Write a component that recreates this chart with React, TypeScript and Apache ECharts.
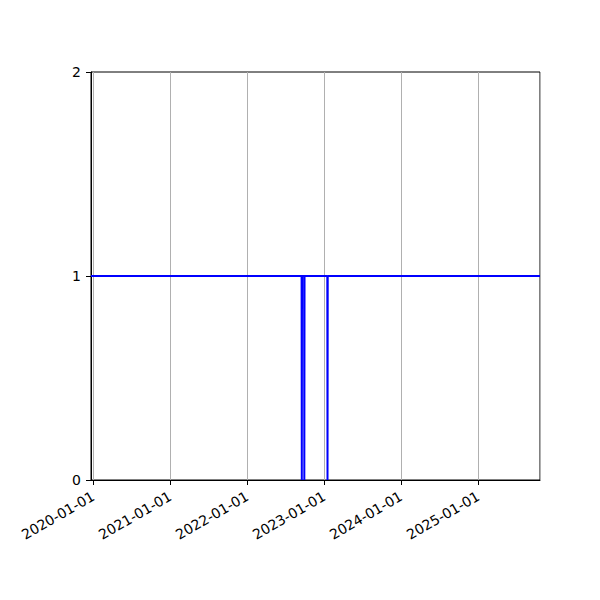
import { useEffect, useRef } from "react";
import * as echarts from "echarts";

// change points of the series (date, value): three one-day drops to 0
const dates = [
  "2019-12-22",
  "2022-09-16",
  "2022-09-17",
  "2022-09-18",
  "2022-09-28",
  "2022-09-29",
  "2022-09-30",
  "2023-01-16",
  "2023-01-17",
  "2023-01-18",
  "2025-10-21",
];
const values = [1, 1, 0, 1, 1, 0, 1, 1, 0, 1, 1];

const xMin = "2019-12-22";
const xMax = "2025-10-21";
const yTicks = [0, 1, 2];

const font = "DejaVu Sans";

export default function App() {
  const chartRef = useRef<HTMLDivElement | null>(null);

  useEffect(() => {
    document.body.style.margin = "0";
    if (!chartRef.current) {
      return;
    }

    const chart = echarts.init(chartRef.current, undefined, { renderer: "svg" });

    chart.setOption({
      animation: false,
      backgroundColor: "#ffffff",
      grid: {
        left: 91,
        right: 60,
        top: 72,
        bottom: 120,
        show: true,
        borderColor: "#000000",
        borderWidth: 1,
        backgroundColor: "transparent",
      },
      xAxis: {
        type: "time",
        min: new Date(xMin).getTime(),
        max: new Date(xMax).getTime(),
        minInterval: 365 * 86400000,
        maxInterval: 366 * 86400000,
        axisLine: { show: true, lineStyle: { color: "#000000", width: 1 } },
        axisTick: { show: true, length: 5, lineStyle: { color: "#000000" } },
        splitLine: { show: true, lineStyle: { color: "#b0b0b0", width: 1 } },
        axisLabel: {
          rotate: 30,
          margin: 15,
          color: "#000000",
          fontFamily: font,
          fontSize: 14,
          showMinLabel: false,
          showMaxLabel: false,
          formatter: (v: number) => {
            const d = new Date(v);
            const m = String(d.getUTCMonth() + 1).padStart(2, "0");
            const day = String(d.getUTCDate()).padStart(2, "0");
            return `${d.getUTCFullYear()}-${m}-${day}`;
          },
        },
      },
      yAxis: {
        type: "value",
        min: yTicks[0],
        max: yTicks[yTicks.length - 1],
        interval: 1,
        axisLine: { show: true, lineStyle: { color: "#000000", width: 1 } },
        axisTick: { show: true, length: 5, lineStyle: { color: "#000000" } },
        splitLine: { show: false },
        axisLabel: {
          margin: 10,
          color: "#000000",
          fontFamily: font,
          fontSize: 14,
        },
      },
      series: [
        {
          type: "line",
          data: dates.map((d, i) => [new Date(d).getTime(), values[i]]),
          showSymbol: false,
          lineStyle: { color: "#0000ff", width: 2 },
          itemStyle: { color: "#0000ff" },
        },
      ],
    });

    return () => {
      chart.dispose();
    };
  }, []);

  return <div ref={chartRef} style={{ width: 600, height: 600 }} />;
}
